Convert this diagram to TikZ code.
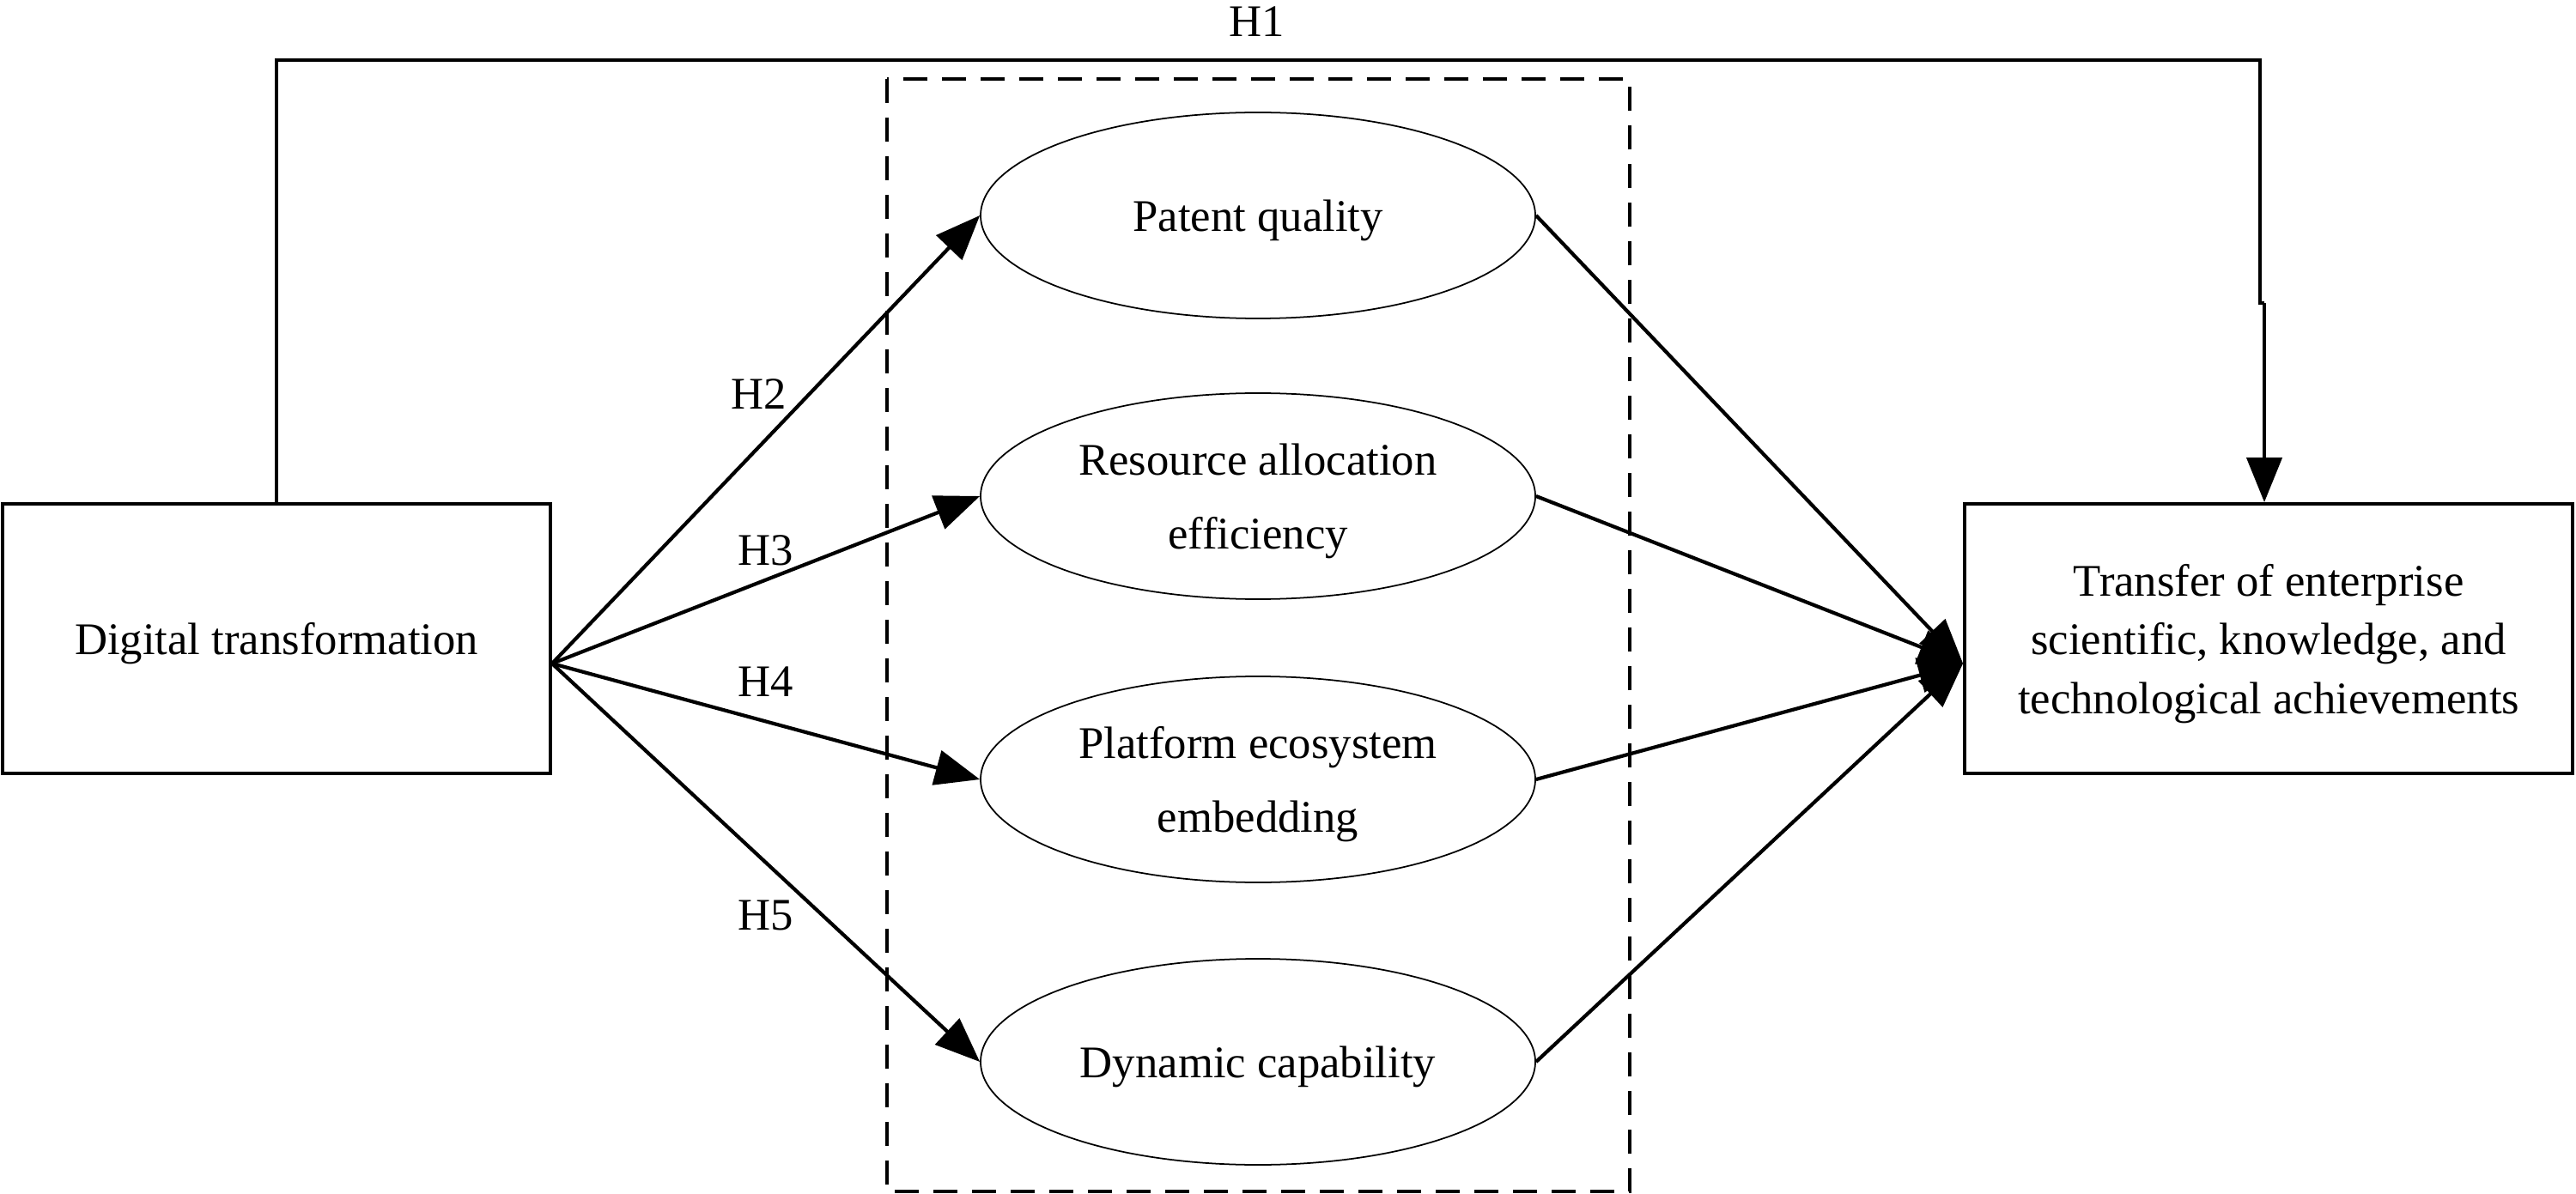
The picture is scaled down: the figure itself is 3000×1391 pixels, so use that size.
\documentclass[tikz,border=0pt]{standalone}
\usepackage{fontspec}
\setmainfont{Liberation Serif}
\usetikzlibrary{arrows.meta,shapes.geometric,calc}

\begin{document}
\begin{tikzpicture}[x=0.1mm, y=-0.1mm,
  every node/.style={font=\fontsize{15}{19.5}\selectfont},
  box/.style={draw,line width=1.1pt,minimum width=63.8mm,minimum height=31.4mm,
              align=center,inner sep=0pt,text depth=0pt},
  oval/.style={ellipse,draw,line width=0.5pt,minimum width=64.6mm,minimum height=24mm,
               inner sep=0pt,align=center,text depth=0pt,font=\fontsize{15}{24.5}\selectfont},
  grp/.style={draw,line width=0.9pt,dash pattern=on 2.8mm off 1.7mm},
  ln/.style={line width=1.2pt},
  ar/.style={ln,-{Triangle[length=5.2mm,width=4.1mm]}}]
\useasboundingbox (0,0) rectangle (3000,1391);
% mediator frame
\draw[grp] (1033,92) rectangle (1898,1388);
% end boxes
\node[box] (dt) at (322,744) {Digital transformation};
\node[box,minimum width=70.8mm] (tr) at (2642,744)
  {Transfer of enterprise\\scientific, knowledge, and\\technological achievements};
% mediators
\node[oval] (pq) at (1465,251) {Patent quality};
\node[oval] (ra) at (1465,578) {Resource allocation\\efficiency};
\node[oval] (pe) at (1465,908) {Platform ecosystem\\embedding};
\node[oval] (dc) at (1465,1237) {Dynamic capability};
\coordinate (dto) at ($(dt.east)+(0,29)$);
\coordinate (tri) at ($(tr.west)+(0,29)$);
\foreach \m in {pq,ra,pe,dc}{
  \draw[ar] (dto) -- (\m.west);
  \draw[ar] (\m.east) -- (tri);
}
% direct path H1
\coordinate (h1r) at (2632,70);
\draw[ln] (dt.north) |- (h1r) -- ++(0,283) -- ++(5,0) coordinate (h1j);
\draw[ar] (h1j) -- (h1j |- tr.north);
% hypothesis labels
\node (h1) at (1464,25) {H1};
\node (h2) at (884,459) {H2};
\node (h3) at (892,641) {H3};
\node (h4) at (892,794) {H4};
\node (h5) at (892,1066) {H5};
\end{tikzpicture}
\end{document}
